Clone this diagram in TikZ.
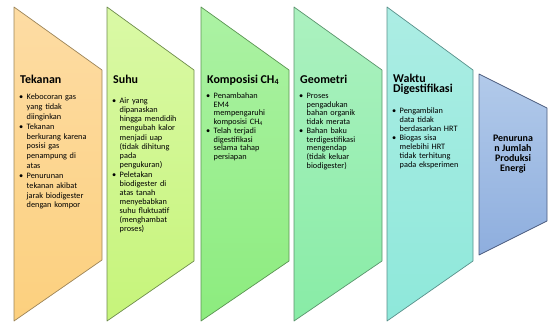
\documentclass[tikz,border=0pt]{standalone}
\usepackage{fontspec}
\setmainfont{Carlito}
\usetikzlibrary{positioning}
\definecolor{tekTop}{HTML}{FDDCA4}
\definecolor{tekBot}{HTML}{FCD07E}
\definecolor{tekLine}{HTML}{9C8458}
\definecolor{suhTop}{HTML}{DAF9A6}
\definecolor{suhBot}{HTML}{C6F47A}
\definecolor{suhLine}{HTML}{6E8C4C}
\definecolor{komTop}{HTML}{ACF2A4}
\definecolor{komBot}{HTML}{8CEC7E}
\definecolor{komLine}{HTML}{5A9452}
\definecolor{geoTop}{HTML}{ACF1C0}
\definecolor{geoBot}{HTML}{88ECA6}
\definecolor{geoLine}{HTML}{5A946C}
\definecolor{wakTop}{HTML}{ACEDE4}
\definecolor{wakBot}{HTML}{8EE8DA}
\definecolor{wakLine}{HTML}{58908A}
\definecolor{penTop}{HTML}{B2CAEA}
\definecolor{penBot}{HTML}{8EAEDE}
\definecolor{penLine}{HTML}{4C5C7E}
\newcommand{\itm}[1]{\par\hangindent=7.5bp\hangafter=1\noindent\makebox[7.5bp][l]{\textbullet}#1\par\vskip0.8bp}
\tikzset{
  panel/.style n args={3}{line width=0.7bp, line join=round, draw=#3, top color=#1, bottom color=#2},
  ttl/.style={anchor=base west, inner sep=0pt, font=\bfseries\fontsize{12}{12.5}\selectfont},
  bul/.style={anchor=north west, inner sep=0pt, text width=80bp, align=left, font=\fontsize{8.3}{#1}\selectfont},
  bul/.default=9.2,
}

\begin{document}
\begin{tikzpicture}[x=1bp,y=-1bp]
  \useasboundingbox (0,0) rectangle (548,325);
  % panels
  \path[panel={tekTop}{tekBot}{tekLine}] (14,7) -- (102,70) -- (102,260) -- (14,321) -- cycle;
  \path[panel={suhTop}{suhBot}{suhLine}] (107,7) -- (194,70) -- (194,261) -- (107,321) -- cycle;
  \path[panel={komTop}{komBot}{komLine}] (201,7) -- (289,70) -- (289,261) -- (201,321) -- cycle;
  \path[panel={geoTop}{geoBot}{geoLine}] (294,7) -- (382,70) -- (382,261) -- (294,321) -- cycle;
  \path[panel={wakTop}{wakBot}{wakLine}] (387,7) -- (473,70) -- (473,261) -- (387,321) -- cycle;
  \path[panel={penTop}{penBot}{penLine}] (479,74) -- (547,108) -- (547,221) -- (479,255) -- cycle;
  % titles
  \node[ttl] (tTek) at (20,83) {Tekanan};
  \node[ttl] (tSuh) at (113,83) {Suhu};
  \node[ttl] (tKom) at (207,83) {Komposisi CH\textsubscript{4}};
  \node[ttl] (tGeo) at (300,83) {Geometri};
  \node[ttl] (tWak) at (393,82) {Waktu};
  \node[ttl, below=2bp of tWak.base west, anchor=north west] (tWak2) {Digestifikasi};
  % bullets
  \node[bul=9.7] (bTek) at (19,90) {%
    \itm{Kebocoran gas\newline yang tidak\newline diinginkan}
    \itm{Tekanan\newline berkurang karena\newline posisi gas\newline penampung di\newline atas}
    \itm{Penurunan\newline tekanan akibat\newline jarak biodigester\newline dengan kompor}};
  \node[bul=9.1] (bSuh) at (112,94.5) {%
    \itm{Air yang\newline dipanaskan\newline hingga mendidih\newline mengubah kalor\newline menjadi uap\newline (tidak dihitung\newline pada\newline pengukuran)}
    \itm{Peletakan\newline biodigester di\newline atas tanah\newline menyebabkan\newline suhu fluktuatif\newline (menghambat\newline proses)}};
  \node[bul=8.6] (bKom) at (206,90) {%
    \itm{Penambahan\newline EM4\newline mempengaruhi\newline komposisi CH\textsubscript{4}}
    \itm{Telah terjadi\newline digestifikasi\newline selama tahap\newline persiapan}};
  \node[bul=8.6] (bGeo) at (299,90) {%
    \itm{Proses\newline pengadukan\newline bahan organik\newline tidak merata}
    \itm{Bahan baku\newline terdigestifikasi\newline mengendap\newline (tidak keluar\newline biodigester)}};
  \node[bul=9.0] (bWak) at (392,104) {%
    \itm{Pengambilan\newline data tidak\newline berdasarkan HRT}
    \itm{Biogas sisa\newline melebihi HRT\newline tidak terhitung\newline pada eksperimen}};
  % result
  \node[align=center, inner sep=0pt, font=\bfseries\fontsize{10}{10}\selectfont] (hasil) at (513,154) {Penuruna\\n Jumlah\\Produksi\\Energi};
\end{tikzpicture}
\end{document}
